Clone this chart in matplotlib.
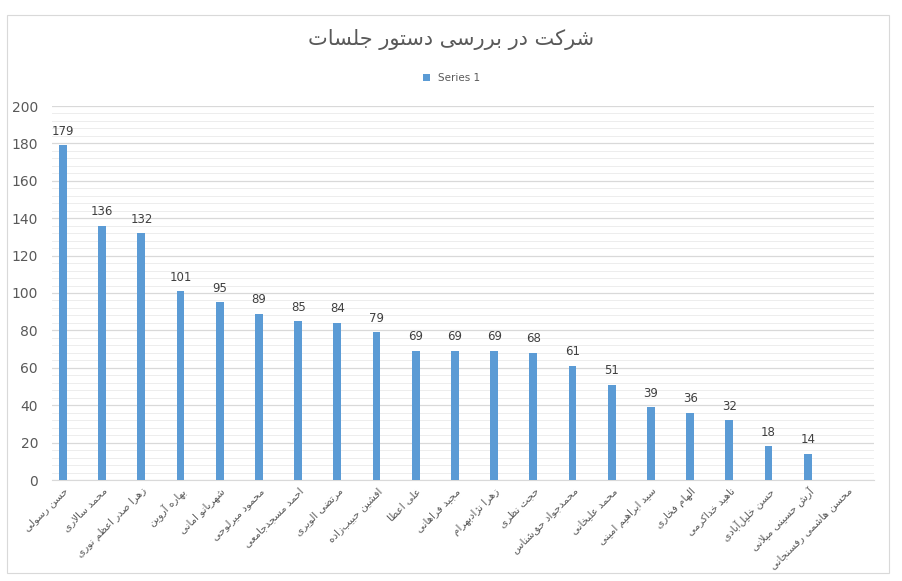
import numpy as np
import matplotlib
matplotlib.use("Agg")
import matplotlib.pyplot as plt
from matplotlib.patches import Rectangle

plt.rcParams['font.family'] = ['DejaVu Sans']

title = "شرکت در بررسی دستور جلسات"
names = [
    "حسن رسولی", "محمد سالاری", "زهرا صدر اعظم نوری", "بهاره آروین",
    "شهربانو امانی", "محمود میرلوحی", "احمد مسجدجامعی", "مرتضی الویری",
    "افشین حبیب\u200cزاده", "علی اعطا", "مجید فراهانی", "زهرا نژادبهرام",
    "حجت نظری", "محمدجواد حق\u200cشناس", "محمد علیخانی", "سید ابراهیم امینی",
    "الهام فخاری", "ناهید خداکرمی", "حسن خلیل\u200cآبادی", "آرش حسینی میلانی",
    "محسن هاشمی رفسنجانی",
]
values = [179, 136, 132, 101, 95, 89, 85, 84, 79, 69, 69, 69, 68, 61, 51,
          39, 36, 32, 18, 14, 0]

# presentation forms: isolated, final, initial, medial (None = no join forward)
FORMS = {
    'ا': (0xFE8D, 0xFE8E, None, None), 'آ': (0xFE81, 0xFE82, None, None),
    'ب': (0xFE8F, 0xFE90, 0xFE91, 0xFE92), 'پ': (0xFB56, 0xFB57, 0xFB58, 0xFB59),
    'ت': (0xFE95, 0xFE96, 0xFE97, 0xFE98), 'ث': (0xFE99, 0xFE9A, 0xFE9B, 0xFE9C),
    'ج': (0xFE9D, 0xFE9E, 0xFE9F, 0xFEA0), 'چ': (0xFB7A, 0xFB7B, 0xFB7C, 0xFB7D),
    'ح': (0xFEA1, 0xFEA2, 0xFEA3, 0xFEA4), 'خ': (0xFEA5, 0xFEA6, 0xFEA7, 0xFEA8),
    'د': (0xFEA9, 0xFEAA, None, None), 'ذ': (0xFEAB, 0xFEAC, None, None),
    'ر': (0xFEAD, 0xFEAE, None, None), 'ز': (0xFEAF, 0xFEB0, None, None),
    'ژ': (0xFB8A, 0xFB8B, None, None),
    'س': (0xFEB1, 0xFEB2, 0xFEB3, 0xFEB4), 'ش': (0xFEB5, 0xFEB6, 0xFEB7, 0xFEB8),
    'ص': (0xFEB9, 0xFEBA, 0xFEBB, 0xFEBC), 'ض': (0xFEBD, 0xFEBE, 0xFEBF, 0xFEC0),
    'ط': (0xFEC1, 0xFEC2, 0xFEC3, 0xFEC4), 'ظ': (0xFEC5, 0xFEC6, 0xFEC7, 0xFEC8),
    'ع': (0xFEC9, 0xFECA, 0xFECB, 0xFECC), 'غ': (0xFECD, 0xFECE, 0xFECF, 0xFED0),
    'ف': (0xFED1, 0xFED2, 0xFED3, 0xFED4), 'ق': (0xFED5, 0xFED6, 0xFED7, 0xFED8),
    'ک': (0xFB8E, 0xFB8F, 0xFB90, 0xFB91), 'گ': (0xFB92, 0xFB93, 0xFB94, 0xFB95),
    'ل': (0xFEDD, 0xFEDE, 0xFEDF, 0xFEE0), 'م': (0xFEE1, 0xFEE2, 0xFEE3, 0xFEE4),
    'ن': (0xFEE5, 0xFEE6, 0xFEE7, 0xFEE8), 'ه': (0xFEE9, 0xFEEA, 0xFEEB, 0xFEEC),
    'و': (0xFEED, 0xFEEE, None, None), 'ی': (0xFBFC, 0xFBFD, 0xFBFE, 0xFBFF),
}
LAM_ALEF = {'ا': (0xFEFB, 0xFEFC), 'آ': (0xFEF5, 0xFEF6)}


def shape(s):
    # join letters and turn the string to visual order
    out = []
    chars = list(s)
    i = 0
    while i < len(chars):
        c = chars[i]
        if c not in FORMS:
            if c != '\u200c':
                out.append(c)
            i += 1
            continue
        prev = chars[i - 1] if i > 0 else None
        joins_prev = prev in FORMS and FORMS[prev][2] is not None
        if c == 'ل' and i + 1 < len(chars) and chars[i + 1] in LAM_ALEF:
            lig = LAM_ALEF[chars[i + 1]]
            out.append(chr(lig[1] if joins_prev else lig[0]))
            i += 2
            continue
        nxt = chars[i + 1] if i + 1 < len(chars) else None
        joins_next = FORMS[c][2] is not None and nxt in FORMS
        f = FORMS[c]
        if joins_prev and joins_next:
            code = f[3]
        elif joins_prev:
            code = f[1]
        elif joins_next:
            code = f[2]
        else:
            code = f[0]
        out.append(chr(code))
        i += 1
    return ''.join(reversed(out))


fig = plt.figure(figsize=(9.03, 5.81), dpi=100)
ax = fig.add_axes([52 / 903, 1 - 480 / 581, 822 / 903, 374 / 581])

x = np.arange(len(names))
ax.bar(x, values, width=0.2, color='#5B9BD5', label='Series 1', zorder=3)
for xi, v in zip(x, values):
    if v > 0:
        ax.text(xi, v + 4, str(v), ha='center', va='bottom', fontsize=8.5, color='#404040')

ax.set_ylim(0, 200)
ax.set_xlim(-0.28, 20.69)
ax.set_yticks(np.arange(0, 201, 20))
ax.set_yticks(np.arange(0, 201, 4), minor=True)
ax.grid(axis='y', which='major', color='#D9D9D9', linewidth=0.9, zorder=0)
ax.grid(axis='y', which='minor', color='#EDEDED', linewidth=0.7, zorder=0)
ax.tick_params(axis='y', which='both', length=0, labelsize=10, labelcolor='#595959', pad=10)
ax.tick_params(axis='x', length=0, labelsize=7.5, labelcolor='#595959', pad=4)
ax.set_xticks(x)
ax.set_xticklabels([shape(n) for n in names], rotation=45, ha='right', rotation_mode='anchor')
for sp in ['top', 'right', 'left']:
    ax.spines[sp].set_visible(False)
ax.spines['bottom'].set_color('#D9D9D9')

fig.text(0.5, 1 - 40 / 581, shape(title), ha='center', va='center', fontsize=15, color='#595959')
fig.legend(loc='center', bbox_to_anchor=(0.5, 1 - 78 / 581), frameon=False, fontsize=7.5,
           handlelength=0.7, handleheight=0.7, labelcolor='#595959')

fig.patches.append(Rectangle((7 / 903, 1 - 573 / 581), 882 / 903, 558 / 581,
                             transform=fig.transFigure, fill=False, edgecolor='#D9D9D9', linewidth=0.8))

fig.savefig('out.png', dpi=100)
